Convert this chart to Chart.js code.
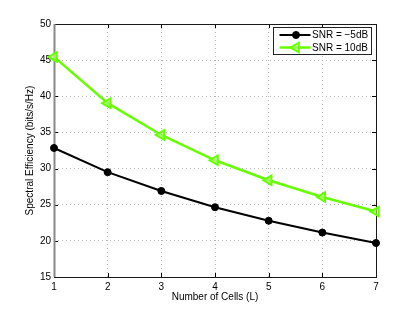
<!DOCTYPE html>
<html>
<head>
<meta charset="utf-8">
<script src="https://cdn.jsdelivr.net/npm/chart.js@4/dist/chart.umd.min.js"></script>
<style>
html,body{margin:0;padding:0;background:#fff;}
#wrap{width:415px;height:312px;}
</style>
</head>
<body>
<div id="wrap"><canvas id="c" width="415" height="312"></canvas></div>
<script>
const cells = [1, 2, 3, 4, 5, 6, 7];
const snrMinus5 = [32.85, 29.5, 26.9, 24.65, 22.78, 21.15, 19.7];
const snr10 = [45.45, 39.05, 34.65, 31.15, 28.38, 26.06, 24.05];
const seriesLabels = ['SNR = \u22125dB', 'SNR = 10dB'];
const xTicks = [1, 2, 3, 4, 5, 6, 7];
const yTicks = [15, 20, 25, 30, 35, 40, 45, 50];

const FONT = 'Liberation Sans, Arial, Helvetica, sans-serif';
const GREEN = '#66FF00';

const framePlugin = {
  id: 'frame',
  beforeDatasetsDraw(chart) {
    const {ctx, chartArea: a, scales} = chart;
    ctx.save();
    ctx.strokeStyle = '#000';
    ctx.lineWidth = 1;
    ctx.beginPath();
    xTicks.forEach(v => {
      const px = Math.round(scales.x.getPixelForValue(v)) + 0.5;
      ctx.moveTo(px, a.bottom); ctx.lineTo(px, a.bottom - 4);
      ctx.moveTo(px, a.top); ctx.lineTo(px, a.top + 4);
    });
    yTicks.forEach(v => {
      const py = Math.round(scales.y.getPixelForValue(v)) + 0.5;
      ctx.moveTo(a.left, py); ctx.lineTo(a.left + 4, py);
      ctx.moveTo(a.right, py); ctx.lineTo(a.right - 4, py);
    });
    ctx.stroke();
    ctx.strokeStyle = '#1a1a1a';
    ctx.strokeRect(Math.round(a.left) + 0.5, Math.round(a.top) + 0.5,
      Math.round(a.right - a.left), Math.round(a.bottom - a.top));
    ctx.strokeStyle = '#888';
    ctx.lineWidth = 2;
    ctx.beginPath();
    ctx.moveTo(Math.round(a.left) + 0.5, a.top);
    ctx.lineTo(Math.round(a.left) + 0.5, a.bottom);
    ctx.stroke();
    ctx.restore();
  },
  afterDraw(chart) {
    const {ctx} = chart;
    const bx = 273.5, by = 27.5, bw = 98, bh = 27;
    ctx.save();
    ctx.fillStyle = '#fff';
    ctx.fillRect(bx, by, bw, bh);
    ctx.strokeStyle = '#222';
    ctx.lineWidth = 1;
    ctx.strokeRect(bx, by, bw, bh);
    ctx.font = '10px ' + FONT;
    ctx.textBaseline = 'middle';
    ctx.textAlign = 'left';
    chart.data.datasets.forEach((ds, i) => {
      const y = by + 7.5 + i * 12.5;
      ctx.strokeStyle = ds.borderColor;
      ctx.lineWidth = ds.borderWidth;
      ctx.beginPath();
      ctx.moveTo(bx + 6, y); ctx.lineTo(bx + 37, y);
      ctx.stroke();
      ctx.fillStyle = ds.pointBackgroundColor;
      ctx.strokeStyle = ds.pointBorderColor;
      ctx.lineWidth = ds.pointBorderWidth;
      Chart.helpers.drawPoint(ctx, {
        pointStyle: ds.pointStyle,
        rotation: ds.pointRotation || 0,
        radius: ds.pointRadius,
        borderWidth: ds.pointBorderWidth
      }, bx + 22.5, y);
      ctx.fillStyle = '#000';
      ctx.fillText(ds.label, bx + 38.5, y + 0.5);
    });
    ctx.restore();
  }
};

new Chart(document.getElementById('c'), {
  type: 'line',
  data: {
    datasets: [
      {
        label: seriesLabels[0],
        data: cells.map((x, i) => ({x, y: snrMinus5[i]})),
        borderColor: '#000',
        backgroundColor: '#000',
        borderWidth: 2,
        pointStyle: 'circle',
        pointRadius: 3.5,
        pointBackgroundColor: '#000',
        pointBorderColor: '#000',
        pointBorderWidth: 1,
        tension: 0,
        clip: false
      },
      {
        label: seriesLabels[1],
        data: cells.map((x, i) => ({x, y: snr10[i]})),
        borderColor: GREEN,
        backgroundColor: GREEN,
        borderWidth: 2.5,
        pointStyle: 'triangle',
        pointRotation: -90,
        pointRadius: 5.5,
        pointBackgroundColor: 'rgba(180,255,140,0.6)',
        pointBorderColor: GREEN,
        pointBorderWidth: 2,
        tension: 0,
        clip: false
      }
    ]
  },
  options: {
    responsive: false,
    animation: false,
    devicePixelRatio: 1,
    layout: {padding: {top: 24, right: 39, left: 0, bottom: 0}},
    plugins: {legend: {display: false}, tooltip: {enabled: false}},
    scales: {
      x: {
        type: 'linear',
        min: 1, max: 7,
        afterBuildTicks: s => { s.ticks = xTicks.map(v => ({value: v})); },
        afterFit: s => { s.height = 35; },
        ticks: {color: '#000', font: {family: FONT, size: 10}, padding: 4, maxRotation: 0},
        grid: {color: '#b8b8b8', drawTicks: false, lineWidth: 1},
        border: {display: false, dash: [1, 3]},
        title: {display: true, text: 'Number of Cells (L)', color: '#000',
          font: {family: FONT, size: 10}, padding: {top: 0, bottom: 9}}
      },
      y: {
        type: 'linear',
        min: 15, max: 50,
        afterBuildTicks: s => { s.ticks = yTicks.map(v => ({value: v})); },
        afterFit: s => { s.width = 54; },
        ticks: {color: '#000', font: {family: FONT, size: 10}, padding: 3},
        grid: {color: '#b8b8b8', drawTicks: false, lineWidth: 1},
        border: {display: false, dash: [1, 3]},
        title: {display: true, text: 'Spectral Efficiency (bits/s/Hz)', color: '#000',
          font: {family: FONT, size: 10}, padding: {top: 24, bottom: 0}}
      }
    }
  },
  plugins: [framePlugin]
});
</script>
</body>
</html>
